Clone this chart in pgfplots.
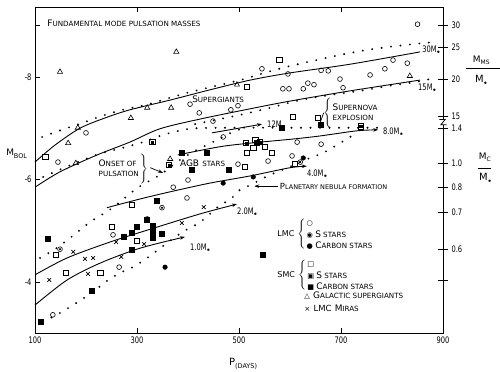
\documentclass[border=0pt]{standalone}
\usepackage{pgfplots}
\pgfplotsset{compat=1.18}
\usepackage{pgfplotstable}
\usepackage{fontspec}
\setmainfont{DejaVu Sans}
\newfontfamily\numfont{DejaVu Sans}[FakeStretch=0.75]
\usetikzlibrary{arrows.meta}
\newcommand\SC[2]{{\fontsize{9}{10}\selectfont #1}{\fontsize{7.2}{9}\selectfont #2}}
\newcommand\Msun{M\raisebox{-1.5pt}{\fontsize{5}{5}\selectfont$\bullet$}}
\tikzset{dotline/.style={line width=2.1bp, line cap=round, dash pattern=on 0pt off 9.5bp},
  mline/.style={line width=0.9pt},
  arr/.style={-{Stealth[length=5bp,width=3.5bp]}}}

\pgfplotstableread{
P M
850 -9.03
802 -8.33
830 -8.27
786 -8.16
757 -8.04
698 -7.96
661 -8.13
675 -8.12
596 -8.06
545 -8.16
586 -7.77
598 -7.77
626 -7.77
635 -7.88
647 -7.85
704 -7.79
614 -6.73
661 -6.69
604 -6.46
557 -6.36
404 -7.47
422 -7.30
449 -7.14
484 -7.36
498 -7.44
469 -6.83
498 -6.30
400 -5.99
371 -5.85
398 -5.64
200 -6.91
145 -6.34
253 -4.92
265 -4.29
135 -3.36
}\lmcO
\pgfplotstableread{
P M
349 -5.45
320 -5.23
620 -6.34
149 -4.64
}\lmcS
\pgfplotstableread{
P M
469 -5.93
528 -6.05
626 -6.42
355 -4.29
}\lmcC
\pgfplotstableread{
P M
120 -6.44
516 -7.81
579 -8.33
606 -7.22
655 -7.20
532 -6.77
551 -6.64
565 -6.52
516 -6.52
528 -6.62
512 -6.25
610 -6.30
290 -5.50
251 -5.07
300 -4.80
141 -4.53
161 -4.18
228 -4.18
}\smcO
\pgfplotstableread{
P M
330 -6.73
388 -6.52
437 -6.52
514 -6.71
363 -6.28
584 -7.01
739 -7.04
541 -6.73
}\smcS
\pgfplotstableread{
P M
408 -6.20
479 -6.19
339 -5.58
273 -4.88
290 -4.96
300 -5.07
320 -5.21
330 -5.09
330 -4.98
330 -4.86
349 -4.94
290 -4.64
124 -4.84
212 -3.83
112 -3.22
547 -4.53
535 -6.71
661 -7.06
}\smcC
\pgfplotstableread{
P M
149 -8.10
377 -8.49
496 -7.85
320 -7.40
367 -7.40
288 -7.20
184 -7.01
165 -6.71
180 -6.32
365 -6.40
835 -8.02
}\galSG
\pgfplotstableread{
P M
128 -4.04
175 -4.59
198 -4.45
214 -4.47
204 -4.16
259 -4.78
269 -4.49
314 -4.74
388 -5.15
431 -5.46
}\miras

\begin{document}
\begin{tikzpicture}
\path[use as bounding box] (-35bp,-39bp) rectangle (465bp,333bp);
\begin{axis}[
  at={(0,0)}, anchor=south west, scale only axis, width=408bp, height=326bp,
  xmin=100, xmax=900, ymin=-9.366, ymax=-3.005, y dir=reverse,
  clip=false,
  axis line style={line width=0.9pt},
  xtick={100,300,500,700,900}, xticklabels={100,300,500,700,900},
  ytick={-9,-8,-6,-4}, yticklabels={,-8,-6,-4}, ytick pos=left,
  tick align=inside, major tick length=5bp, tick style={black, line width=0.8pt},
  ticklabel style={font=\numfont\fontsize{9}{10}\selectfont},
  every axis plot/.append style={black},
]
% mass tracks
\addplot[mline, smooth] coordinates {(100,-6.34)(139,-6.67)(188,-7.00)(237,-7.20)(286,-7.36)(365,-7.55)(443,-7.75)(522,-7.94)(600,-8.08)(718,-8.25)(855,-8.49)};
\addplot[mline, smooth] coordinates {(100,-5.85)(149,-6.15)(222,-6.48)(286,-6.73)(345,-6.99)(424,-7.18)(522,-7.38)(600,-7.53)(718,-7.73)(855,-7.94)};
\addplot[mline, arr] coordinates {(447,-6.91)(545,-7.08)};
\addplot[mline, smooth, arr] coordinates {(380,-6.48)(463,-6.64)(522,-6.71)(606,-6.79)(659,-6.85)(731,-6.95)(773,-6.97)};
\addplot[mline, smooth, arr] coordinates {(241,-5.45)(306,-5.62)(365,-5.76)(443,-5.93)(522,-6.07)(600,-6.23)(633,-6.26)};
\addplot[mline, smooth, arr] coordinates {(100,-4.14)(163,-4.47)(247,-4.78)(326,-5.03)(424,-5.33)(496,-5.52)};
\addplot[mline, smooth, arr] coordinates {(100,-3.55)(163,-4.04)(228,-4.37)(306,-4.66)(394,-4.88)};
% dotted tracks
\addplot[dotline, smooth] coordinates {(114,-6.83)(153,-6.97)(192,-7.10)(231,-7.24)(280,-7.38)(316,-7.45)(398,-7.69)(502,-7.94)(586,-8.18)(718,-8.47)(796,-8.59)(880,-8.68)};
\addplot[dotline, smooth] coordinates {(116,-6.05)(155,-6.22)(194,-6.38)(233,-6.52)(273,-6.62)(312,-6.73)(351,-6.87)(404,-6.99)(473,-7.01)(620,-7.01)(771,-7.01)};
\addplot[dotline, smooth] coordinates {(414,-7.08)(453,-7.16)(502,-7.26)(561,-7.40)(620,-7.55)(679,-7.65)(737,-7.73)(796,-7.83)(845,-7.90)(884,-7.98)};
\addplot[dotline, smooth] coordinates {(110,-4.47)(139,-4.64)(169,-4.86)(208,-5.17)(251,-5.44)(300,-5.83)(345,-6.09)(384,-6.38)(418,-6.58)(453,-6.75)(488,-6.93)(512,-7.01)};
\addplot[dotline, smooth] coordinates {(116,-3.22)(153,-3.42)(184,-3.61)(214,-3.81)(241,-4.02)(267,-4.18)(292,-4.29)(320,-4.47)(359,-4.76)(390,-4.98)(424,-5.17)(463,-5.50)(482,-5.60)(502,-5.80)(522,-5.89)(541,-5.99)(561,-6.09)(600,-6.25)(639,-6.42)(665,-6.52)(698,-6.71)(731,-6.91)};
% data points
\addplot[only marks, mark=o, mark size=2.4bp, mark options={line width=0.6pt}] table {\lmcO};
\addplot[only marks, mark=o, mark size=2.4bp, mark options={line width=0.6pt}] table {\lmcS};
\addplot[only marks, mark=*, mark size=0.9bp] table {\lmcS};
\addplot[only marks, mark=*, mark size=2.3bp] table {\lmcC};
\addplot[only marks, mark=square, mark size=2.6bp, mark options={line width=0.6pt}] table {\smcO};
\addplot[only marks, mark=square, mark size=2.6bp, mark options={line width=0.6pt}] table {\smcS};
\addplot[only marks, mark=square*, mark size=1.2bp] table {\smcS};
\addplot[only marks, mark=square*, mark size=2.5bp] table {\smcC};
\addplot[only marks, mark=triangle, mark size=3bp, mark options={line width=0.6pt}] table {\galSG};
\addplot[only marks, mark=x, mark size=2.6bp, mark options={line width=0.7pt}] table {\miras};
% annotations
\node[anchor=west, inner sep=0] at (axis cs:124,-9.05) {\SC{F}{UNDAMENTAL MODE PULSATION MASSES}};
\node[anchor=west, inner sep=0] at (axis cs:408,-7.57) {\SC{S}{UPERGIANTS}};
\node[anchor=west, inner sep=0, font=\numfont\fontsize{9}{10}\selectfont] at (axis cs:859,-8.53) {30\Msun};
\node[anchor=west, inner sep=0, font=\numfont\fontsize{9}{10}\selectfont] at (axis cs:851,-7.79) {15\Msun};
\node[anchor=west, inner sep=0, font=\numfont\fontsize{9}{10}\selectfont] at (axis cs:555,-7.06) {12\Msun};
\node[anchor=west, inner sep=0, font=\numfont\fontsize{9}{10}\selectfont] at (axis cs:782,-6.93) {8.0\Msun};
\node[anchor=west, inner sep=0, font=\numfont\fontsize{9}{10}\selectfont] at (axis cs:633,-6.11) {4.0\Msun};
\node[anchor=west, inner sep=0, font=\numfont\fontsize{9}{10}\selectfont] at (axis cs:496,-5.37) {2.0\Msun};
\node[anchor=west, inner sep=0, font=\numfont\fontsize{9}{10}\selectfont] at (axis cs:404,-4.67) {1.0\Msun};
\node[anchor=west, inner sep=0] at (axis cs:665,-7.29) {$\left\{\vphantom{\rule{1pt}{16pt}}\right.$\begin{tabular}{@{}l@{}}\SC{S}{UPERNOVA}\\[-2pt]{\fontsize{7.2}{9}\selectfont EXPLOSION}\end{tabular}};
\draw[line width=0.7pt] (axis cs:658,-7.08) -- (axis cs:666,-7.30);
\node[anchor=east, inner sep=0] at (axis cs:322,-6.20) {\begin{tabular}{@{}l@{}}\SC{O}{NSET OF}\\[-2pt]{\fontsize{7.2}{9}\selectfont PULSATION}\end{tabular}$\left.\vphantom{\rule{1pt}{16pt}}\right\}$};
\draw[line width=0.7pt, arr] (axis cs:326,-6.23) -- (axis cs:351,-6.13);
\node[anchor=west, inner sep=0] at (axis cs:384,-6.32) {{\fontsize{9}{10}\selectfont AGB} {\fontsize{7.2}{9}\selectfont STARS}};
\node[anchor=west, inner sep=0] at (axis cs:580,-5.855) {{\fontsize{8.5}{10}\selectfont P}{\fontsize{6.5}{9}\selectfont LANETARY NEBULA FORMATION}};
\draw[line width=0.7pt, arr] (axis cs:576,-5.87) -- (axis cs:530,-5.87);
% legend
\node[anchor=west, inner sep=0] at (axis cs:575,-4.92) {{\fontsize{8}{10}\selectfont LMC} $\left\{\vphantom{\rule{1pt}{18pt}}\right.$\fontsize{7.2}{11.5}\selectfont\begin{tabular}{@{}l@{}}○\\◉ \SC{S}{ STARS}\\● \SC{C}{ARBON STARS}\end{tabular}};
\node[anchor=west, inner sep=0] at (axis cs:575,-4.12) {{\fontsize{8}{10}\selectfont SMC} $\left\{\vphantom{\rule{1pt}{18pt}}\right.$\fontsize{7.2}{11.5}\selectfont\begin{tabular}{@{}l@{}}□\\▣ \SC{S}{ STARS}\\■ \SC{C}{ARBON STARS}\end{tabular}};
\node[anchor=west, inner sep=0] at (axis cs:628,-3.73) {{\fontsize{7.2}{9}\selectfont △} \SC{G}{ALACTIC SUPERGIANTS}};
\node[anchor=west, inner sep=0] at (axis cs:628,-3.49) {{\fontsize{7.2}{9}\selectfont ×} {\fontsize{8.5}{10}\selectfont LMC} \SC{M}{IRAS}};
% axis titles
\node[inner sep=0] at (axis cs:64,-6.50) {{\fontsize{9}{10}\selectfont M}\raisebox{-3pt}{\fontsize{6.5}{8}\selectfont BOL}};
\node[inner sep=0] at (axis cs:508,-2.40) {{\fontsize{10}{10}\selectfont P}\raisebox{-3pt}{\fontsize{6.5}{8}\selectfont (DAYS)}};
\node[inner sep=0] at (axis cs:975,-8.33) {{\fontsize{9}{10}\selectfont M}\raisebox{-2pt}{\fontsize{6}{8}\selectfont MS}};
\draw[line width=0.7pt] (axis cs:945,-8.16) -- (axis cs:1015,-8.16);
\node[inner sep=0] at (axis cs:975,-7.94) {\Msun};
\node[inner sep=0] at (axis cs:982,-6.44) {{\fontsize{9}{10}\selectfont M}\raisebox{-2pt}{\fontsize{6}{8}\selectfont C}};
\draw[line width=0.7pt] (axis cs:968,-6.225) -- (axis cs:995,-6.225);
\node[inner sep=0] at (axis cs:983,-6.03) {\Msun};
\end{axis}
\begin{axis}[
  at={(0,0)}, anchor=south west, scale only axis, width=408bp, height=326bp,
  xmin=100, xmax=900, ymin=-9.366, ymax=-3.005, y dir=reverse,
  clip=false,
  axis x line=none, axis y line*=right, axis line style={line width=0.9pt, -},
  ytick={-9.015,-8.586,-7.962,-7.24,-7.006,-6.32,-5.855,-5.367,-4.645,-4.04},
  yticklabels={30,25,20,15,1.4,1.0,0.8,0.7,0.6,{}},
  tick align=center, major tick length=10bp, tick style={black, line width=0.8pt},
  ticklabel style={font=\numfont\fontsize{9}{10}\selectfont},
]
\fill[white] (axis cs:890,-7.17) rectangle (axis cs:910,-7.07);
\draw[line width=0.8pt] (axis cs:893,-7.17) -- (axis cs:904,-7.17) -- (axis cs:896,-7.07) -- (axis cs:907,-7.07);
\end{axis}
\end{tikzpicture}
\end{document}
